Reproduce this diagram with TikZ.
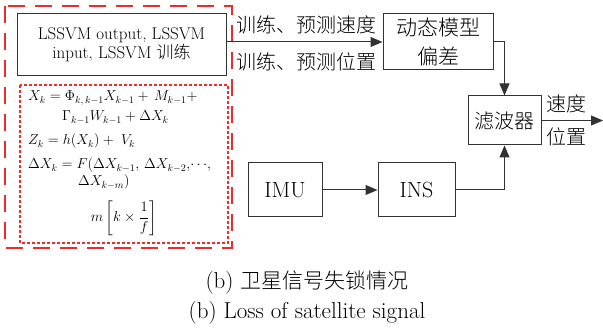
\documentclass[tikz,border=0pt]{standalone}
\usepackage{fontspec}
\usepackage{amsmath,amssymb}
\newfontfamily\cjk{Noto Sans CJK SC Light}
\usetikzlibrary{arrows.meta}
\definecolor{frameRed}{RGB}{235,45,45}
\definecolor{lineGray}{RGB}{50,50,50}

\begin{document}
\begin{tikzpicture}[x=1pt,y=-1pt,
  box/.style={draw=lineGray,line width=1pt,inner sep=0pt,align=center},
  flow/.style={draw=lineGray,line width=1pt,-{Triangle[length=12pt,width=10pt]}},
  lbl/.style={inner sep=0pt,font=\fontsize{20}{22}\selectfont\cjk},
  eqn/.style={inner sep=0pt,anchor=base west,font=\fontsize{14.5}{16}\selectfont}]
  \useasboundingbox (0,0) rectangle (603,331);
  % red frames
  \draw[frameRed,line width=2.5pt,dash pattern=on 17pt off 10pt] (5,6) rectangle (232,248);
  \draw[frameRed,line width=2pt,dash pattern=on 3pt off 2pt] (20,85) rectangle (228,243);

  % blocks
  \node[box,minimum width=209pt,minimum height=62pt,font=\fontsize{17}{19}\selectfont] (lssvm) at (121.5,45) {LSSVM output, LSSVM\\input, LSSVM {\cjk 训练}};
  \node[box,minimum width=110pt,minimum height=56pt,font=\fontsize{21}{29}\selectfont\cjk] (dyn) at (438,42) {动态模型\\偏差};
  \node[box,minimum width=73pt,minimum height=49pt,font=\fontsize{20}{24}\selectfont\cjk] (filter) at (504.5,120.5) {滤波器};
  \node[box,minimum width=74pt,minimum height=54pt,font=\fontsize{22}{24}\selectfont] (imu) at (285,190) {IMU};
  \node[box,minimum width=77pt,minimum height=54pt,font=\fontsize{22}{24}\selectfont] (ins) at (416.5,190) {INS};
  \coordinate (out) at (603,120.5);

  % arrows
  \draw[flow] (lssvm.east |- dyn.west) -- (dyn.west);
  \draw[flow] (dyn.east) -| (filter.north);
  \draw[flow] (imu) -- (ins);
  \draw[flow] (ins.east) -| (filter.south);
  \draw[flow] (filter.east) -- (out);

  % labels
  \node[lbl] (lblv) at (306,25) {训练、预测速度};
  \node[lbl] (lblp) at (306,62) {训练、预测位置};
  \node[lbl] (outv) at (566,104) {速度};
  \node[lbl] (outp) at (566,137) {位置};

  % model equations
  \node[eqn] (eq1) at (28,101) {$X_k=\Phi_{k,\,k-1}X_{k-1}+\,M_{k-1}+$};
  \node[eqn] (eq2) at (62,121) {$\Gamma_{k-1}W_{k-1}+\Delta X_k$};
  \node[eqn] (eq3) at (28,145) {$Z_k=h(X_k)+\;V_k$};
  \node[eqn] (eq4) at (28,169) {$\Delta X_k=F(\Delta X_{k-1},\,\Delta X_{k-2},\!\cdots\!,$};
  \node[eqn] (eq5) at (78,186) {$\Delta X_{k-m})$};
  \node[eqn,anchor=center] (eq6) at (124,218) {$m\left[k\times\dfrac{1}{f}\right]$};

  % caption
  \node[inner sep=0pt,font=\fontsize{23}{25}\selectfont] (cap1) at (307,283) {(b) {\fontsize{21}{25}\selectfont\cjk 卫星信号失锁情况}};
  \node[inner sep=0pt,font=\fontsize{23}{25}\selectfont] (cap2) at (307,313) {(b) Loss of satellite signal};
\end{tikzpicture}
\end{document}
